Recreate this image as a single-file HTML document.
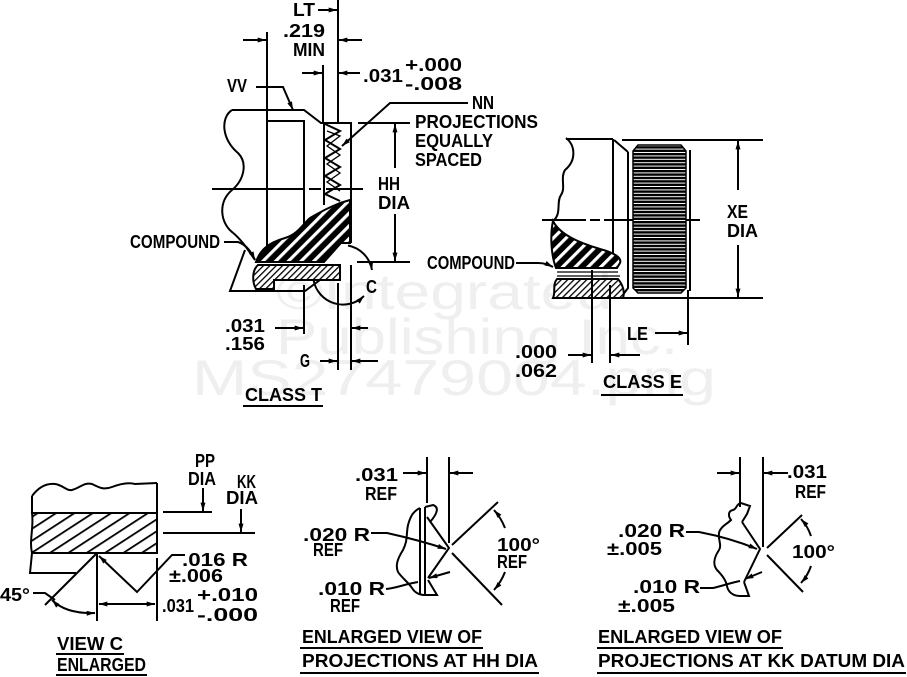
<!DOCTYPE html>
<html><head><meta charset="utf-8"><style>
html,body{margin:0;padding:0;background:#fff;}
svg{display:block;}
.t{font-family:"Liberation Sans",sans-serif;font-weight:bold;font-size:18px;fill:#000;}
.w{font-family:"Liberation Sans",sans-serif;font-size:50px;fill:#efefef;}
</style></head><body>
<svg width="907" height="677" viewBox="0 0 907 677" xmlns="http://www.w3.org/2000/svg">
<defs>
<marker id="a" viewBox="0 0 10 6" refX="10" refY="3" markerWidth="9" markerHeight="5" orient="auto-start-reverse" markerUnits="userSpaceOnUse"><path d="M0,0L10,3L0,6z" fill="#000" stroke="none"/></marker>
<pattern id="cmp" width="9" height="9" patternUnits="userSpaceOnUse" patternTransform="rotate(45)"><rect width="9" height="9" fill="#000"/><rect width="3.2" height="9" fill="#fff"/></pattern>
<pattern id="fh" width="4.5" height="4.5" patternUnits="userSpaceOnUse" patternTransform="rotate(45)"><rect width="4.5" height="4.5" fill="#fff"/><rect width="1.3" height="4.5" fill="#000"/></pattern>
<pattern id="vc" width="10" height="10" patternUnits="userSpaceOnUse" patternTransform="rotate(57)"><rect width="10" height="10" fill="#fff"/><rect width="1.8" height="10" fill="#000"/></pattern>
<pattern id="kn" width="10" height="3.4" patternUnits="userSpaceOnUse"><rect width="10" height="3.4" fill="#fff"/><rect width="10" height="2.4" fill="#000"/></pattern>
</defs>

<!-- watermark -->
<text class="w" x="276" y="309" textLength="336" lengthAdjust="spacingAndGlyphs">©Integrated</text>
<text class="w" x="276" y="354" textLength="402" lengthAdjust="spacingAndGlyphs">Publishing Inc.</text>
<text class="w" x="192" y="395" textLength="524" lengthAdjust="spacingAndGlyphs">MS27479004.png</text>

<g fill="none" stroke="#000" stroke-width="2">
<!-- ===== CLASS T ===== -->
<line x1="338" y1="0" x2="338" y2="123"/>
<line x1="318" y1="10" x2="337" y2="10" marker-end="url(#a)"/>
<line x1="267" y1="32" x2="267" y2="254"/>
<line x1="243" y1="40" x2="266" y2="40" marker-end="url(#a)"/>
<line x1="362" y1="40" x2="339" y2="40" marker-end="url(#a)"/>
<line x1="323" y1="65" x2="323" y2="123"/>
<line x1="302" y1="73" x2="322" y2="73" marker-end="url(#a)"/>
<line x1="360" y1="73" x2="339" y2="73" marker-end="url(#a)"/>
<polyline points="256,87 283,87 293,110" marker-end="url(#a)"/>
<polyline points="468,103 390,103 342,146" marker-end="url(#a)"/>
<line x1="358" y1="123" x2="410" y2="123"/>
<line x1="395" y1="168" x2="395" y2="124" marker-end="url(#a)"/>
<line x1="395" y1="214" x2="395" y2="261" marker-end="url(#a)"/>
<line x1="357" y1="262" x2="410" y2="262"/>
<path d="M232,110 L304,110 L321,123 L351,123 L351,243"/>
<path d="M232,110 C220,118 222,140 238,153 C248,163 244,180 232,190 C218,202 220,222 232,232 C242,240 248,250 255,260"/>
<polyline points="267,121 304,121 304,232"/>
<line x1="324" y1="123" x2="324" y2="205"/>
<polyline points="325,124 340,131 325,140 340,149 325,158 340,167 325,176 340,185 325,194 340,201"/>
<polyline points="327,131 340,136 327,146 340,155 327,164 340,173 327,182 340,191" stroke-width="1.3"/>
<line x1="212" y1="189" x2="363" y2="189" stroke-dasharray="92 5 12 5 60"/>
<path d="M256,262 C260,250 268,243 285,238 C298,234 302,225 310,218 C320,212 330,207 340,203 L350,200 L350,243 L341,243 L324,262 Z" fill="url(#cmp)"/>
<path d="M258,265 L340,265 L340,280 L274,280 L274,289 L256,289 C252,282 252,270 258,265 Z" fill="url(#fh)"/>
<polyline points="245,250 230,291 305,291 320,280 340,280"/>
<!-- C circle arcs (visible portions) -->
<path d="M348,245.5 A30,30 0 0 1 372,270" marker-end="url(#a)"/>
<path d="M313.5,280 A30,30 0 0 0 364,296" marker-end="url(#a)"/>
<line x1="304" y1="285" x2="304" y2="334"/>
<line x1="275" y1="328" x2="303" y2="328" marker-end="url(#a)"/>
<line x1="351" y1="265" x2="351" y2="370"/>
<line x1="368" y1="328" x2="352" y2="328" marker-end="url(#a)"/>
<line x1="338" y1="283" x2="338" y2="370"/>
<line x1="320" y1="361" x2="337" y2="361" marker-end="url(#a)"/>
<line x1="378" y1="361" x2="352" y2="361" marker-end="url(#a)"/>
<path d="M224,242 L238,242 C247,245 251,252 255,260" marker-end="url(#a)"/>
<line x1="243" y1="406" x2="323" y2="406"/>

<!-- ===== CLASS E ===== -->
<path d="M566,138 C575,145 577,160 565,170 C560,178 566,188 561,195 C556,202 562,214 553,221"/>
<line x1="566" y1="139" x2="613" y2="139"/>
<line x1="613" y1="139" x2="613" y2="262"/>
<line x1="614" y1="140" x2="628" y2="152"/>
<line x1="622" y1="140" x2="763" y2="140"/>
<line x1="553" y1="298" x2="763" y2="298"/>
<polyline points="628,152 628,288 622,296"/>
<line x1="542" y1="220" x2="700" y2="220" stroke-dasharray="44 4 10 4"/>
<path d="M638,145 L681,145 L686,151 L686,288 L681,293 L638,293 L633,288 L633,151 Z" fill="url(#kn)" stroke-width="1.5"/>
<line x1="690" y1="150" x2="690" y2="291"/>
<path d="M553,221 C560,235 580,243 600,249 C615,253 622,258 620,263 L617,268 L556,268 C551,255 550,235 553,221 Z" fill="url(#cmp)"/>
<line x1="557" y1="272" x2="618" y2="272" stroke-width="1.2"/>
<line x1="557" y1="276" x2="620" y2="276" stroke-width="1.2"/>
<path d="M557,279 L618,279 C623,285 625,292 623,298 L553,298 C556,292 552,285 557,279 Z" fill="url(#fh)"/>
<line x1="738" y1="190" x2="738" y2="141" marker-end="url(#a)"/>
<line x1="738" y1="245" x2="738" y2="297" marker-end="url(#a)"/>
<path d="M516,263 L538,263 C545,263 549,265 553,267" marker-end="url(#a)"/>
<line x1="592" y1="270" x2="592" y2="363"/>
<line x1="610" y1="285" x2="610" y2="363"/>
<line x1="568" y1="355" x2="591" y2="355" marker-end="url(#a)"/>
<line x1="640" y1="355" x2="611" y2="355" marker-end="url(#a)"/>
<line x1="688" y1="290" x2="688" y2="345"/>
<line x1="655" y1="333" x2="687" y2="333" marker-end="url(#a)"/>
<line x1="601" y1="395" x2="683" y2="395"/>

<!-- ===== VIEW C ===== -->
<path d="M32,496 C38,488 46,483 55,484 C63,485 66,491 72,490 C80,488 84,482 92,484 C100,488 104,490 112,487 C120,484 128,482 135,484 L157,483"/>
<line x1="32" y1="496" x2="32" y2="513"/>
<path d="M32,513 L157,513 L157,553 L32,553 C29,540 34,528 32,513 Z" fill="url(#vc)"/>
<line x1="157" y1="483" x2="157" y2="513"/>
<polyline points="32,553 30,573 76,573"/>
<line x1="45" y1="605" x2="97" y2="553"/>
<polyline points="185,555 172,555 137,592 99,556" marker-end="url(#a)"/>
<line x1="97" y1="553" x2="97" y2="621"/>
<line x1="157" y1="558" x2="157" y2="621"/>
<line x1="99" y1="604" x2="155" y2="604" marker-start="url(#a)" marker-end="url(#a)"/>
<path d="M52,600 Q66,614 95,613" marker-start="url(#a)" marker-end="url(#a)"/>
<polyline points="33,593 45,593 55,600"/>
<line x1="203" y1="488" x2="203" y2="511" marker-end="url(#a)"/>
<line x1="163" y1="512" x2="212" y2="512"/>
<line x1="241" y1="509" x2="241" y2="532" marker-end="url(#a)"/>
<line x1="163" y1="533" x2="255" y2="533"/>
<line x1="56" y1="654" x2="124" y2="654"/>
<line x1="56" y1="675" x2="147" y2="675"/>

<!-- ===== HH VIEW ===== -->
<line x1="427" y1="457" x2="427" y2="503"/>
<line x1="449" y1="457" x2="449" y2="543"/>
<line x1="403" y1="473" x2="426" y2="473" marker-end="url(#a)"/>
<line x1="473" y1="473" x2="450" y2="473" marker-end="url(#a)"/>
<line x1="420" y1="508" x2="420" y2="595"/>
<line x1="425" y1="507" x2="425" y2="595"/>
<path d="M425,507 L433,505 C439,507 438,513 430,522 M420,508 C412,512 410,518 408,525 C406,535 408,540 403,550 C398,558 395,565 398,572 C402,578 408,582 412,588 C415,593 420,595 424,595 L437,595 L428,580"/>
<polyline points="427,517 449,548 428,578"/>
<line x1="452" y1="545" x2="498" y2="502"/>
<line x1="452" y1="553" x2="502" y2="605"/>
<path d="M505,528 A60,60 0 0 0 494,510" marker-end="url(#a)"/>
<path d="M505,572 A60,60 0 0 1 494,590" marker-end="url(#a)"/>
<path d="M371,533 L387,533 C405,537 425,542 446,549" marker-end="url(#a)"/>
<path d="M386,589 C397,588 405,584 418,582"/>
<line x1="450" y1="572" x2="429" y2="578" marker-end="url(#a)"/>
<line x1="300" y1="648" x2="483" y2="648"/>
<line x1="300" y1="673" x2="539" y2="673"/>

<!-- ===== KK VIEW ===== -->
<line x1="740" y1="457" x2="740" y2="507"/>
<line x1="763" y1="457" x2="763" y2="547"/>
<line x1="717" y1="473" x2="739" y2="473" marker-end="url(#a)"/>
<line x1="788" y1="473" x2="764" y2="473" marker-end="url(#a)"/>
<path d="M742,522 L747,514 L750,506 L741,503 C736,504 737,509 733,510 C728,511 728,516 731,520 C727,524 720,527 719,533 C718,540 722,545 719,550 C715,556 712,564 717,570 C722,575 726,580 727,586 C728,592 733,596 740,596 L749,596 L744,582"/>
<polyline points="742,522 760,549 744,582"/>
<line x1="767" y1="548" x2="802" y2="515"/>
<line x1="767" y1="555" x2="803" y2="592"/>
<path d="M811,536 A48,48 0 0 0 801,519" marker-end="url(#a)"/>
<path d="M811,566 A48,48 0 0 1 801,583" marker-end="url(#a)"/>
<path d="M686,532 L699,532 C720,536 740,542 757,549" marker-end="url(#a)"/>
<path d="M700,588 L713,588 C722,586 730,583 740,581"/>
<line x1="762" y1="572" x2="745" y2="579" marker-end="url(#a)"/>
<line x1="597" y1="648" x2="783" y2="648"/>
<line x1="597" y1="673" x2="906" y2="673"/>
</g>

<g class="t">
<!-- class T -->
<text x="293" y="16" textLength="22" lengthAdjust="spacingAndGlyphs">LT</text>
<text x="283" y="37" textLength="42" lengthAdjust="spacingAndGlyphs">.219</text>
<text x="293" y="56" textLength="32" lengthAdjust="spacingAndGlyphs">MIN</text>
<text x="363" y="82" textLength="40" lengthAdjust="spacingAndGlyphs">.031</text>
<text x="405" y="71" textLength="57" lengthAdjust="spacingAndGlyphs">+.000</text>
<text x="405" y="90" textLength="57" lengthAdjust="spacingAndGlyphs">-.008</text>
<text x="472" y="109" textLength="22" lengthAdjust="spacingAndGlyphs">NN</text>
<text x="415" y="128" textLength="123" lengthAdjust="spacingAndGlyphs">PROJECTIONS</text>
<text x="415" y="147" textLength="78" lengthAdjust="spacingAndGlyphs">EQUALLY</text>
<text x="415" y="166" textLength="67" lengthAdjust="spacingAndGlyphs">SPACED</text>
<text x="227" y="92" textLength="20" lengthAdjust="spacingAndGlyphs">VV</text>
<text x="378" y="190" textLength="22" lengthAdjust="spacingAndGlyphs">HH</text>
<text x="378" y="209" textLength="32" lengthAdjust="spacingAndGlyphs">DIA</text>
<text x="130" y="248" textLength="90" lengthAdjust="spacingAndGlyphs">COMPOUND</text>
<text x="366" y="293" textLength="11" lengthAdjust="spacingAndGlyphs">C</text>
<text x="225" y="332" textLength="40" lengthAdjust="spacingAndGlyphs">.031</text>
<text x="225" y="350" textLength="40" lengthAdjust="spacingAndGlyphs">.156</text>
<text x="300" y="367" textLength="10" lengthAdjust="spacingAndGlyphs">G</text>
<text x="245" y="401" textLength="77" lengthAdjust="spacingAndGlyphs">CLASS T</text>
<!-- class E -->
<text x="727" y="218" textLength="21" lengthAdjust="spacingAndGlyphs">XE</text>
<text x="727" y="237" textLength="31" lengthAdjust="spacingAndGlyphs">DIA</text>
<text x="427" y="269" textLength="88" lengthAdjust="spacingAndGlyphs">COMPOUND</text>
<text x="515" y="358" textLength="42" lengthAdjust="spacingAndGlyphs">.000</text>
<text x="515" y="377" textLength="42" lengthAdjust="spacingAndGlyphs">.062</text>
<text x="627" y="340" textLength="21" lengthAdjust="spacingAndGlyphs">LE</text>
<text x="603" y="388" textLength="79" lengthAdjust="spacingAndGlyphs">CLASS E</text>
<!-- view C -->
<text x="195" y="467" textLength="20" lengthAdjust="spacingAndGlyphs">PP</text>
<text x="188" y="485" textLength="28" lengthAdjust="spacingAndGlyphs">DIA</text>
<text x="237" y="488" textLength="19" lengthAdjust="spacingAndGlyphs">KK</text>
<text x="226" y="504" textLength="32" lengthAdjust="spacingAndGlyphs">DIA</text>
<text x="182" y="566" textLength="66" lengthAdjust="spacingAndGlyphs">.016 R</text>
<text x="169" y="582" textLength="54" lengthAdjust="spacingAndGlyphs">±.006</text>
<text x="162" y="612" textLength="32" lengthAdjust="spacingAndGlyphs">.031</text>
<text x="197" y="601" textLength="61" lengthAdjust="spacingAndGlyphs">+.010</text>
<text x="197" y="621" textLength="61" lengthAdjust="spacingAndGlyphs">-.000</text>
<text x="0" y="601" textLength="30" lengthAdjust="spacingAndGlyphs">45°</text>
<text x="57" y="650" textLength="66" lengthAdjust="spacingAndGlyphs">VIEW C</text>
<text x="57" y="671" textLength="89" lengthAdjust="spacingAndGlyphs">ENLARGED</text>
<!-- HH view -->
<text x="355" y="481" textLength="43" lengthAdjust="spacingAndGlyphs">.031</text>
<text x="365" y="500" textLength="32" lengthAdjust="spacingAndGlyphs">REF</text>
<text x="303" y="541" textLength="67" lengthAdjust="spacingAndGlyphs">.020 R</text>
<text x="313" y="556" textLength="30" lengthAdjust="spacingAndGlyphs">REF</text>
<text x="497" y="551" textLength="43" lengthAdjust="spacingAndGlyphs">100°</text>
<text x="497" y="568" textLength="30" lengthAdjust="spacingAndGlyphs">REF</text>
<text x="318" y="595" textLength="67" lengthAdjust="spacingAndGlyphs">.010 R</text>
<text x="330" y="612" textLength="30" lengthAdjust="spacingAndGlyphs">REF</text>
<text x="302" y="643" textLength="180" lengthAdjust="spacingAndGlyphs">ENLARGED VIEW OF</text>
<text x="302" y="667" textLength="236" lengthAdjust="spacingAndGlyphs">PROJECTIONS AT HH DIA</text>
<!-- KK view -->
<text x="787" y="478" textLength="40" lengthAdjust="spacingAndGlyphs">.031</text>
<text x="795" y="498" textLength="31" lengthAdjust="spacingAndGlyphs">REF</text>
<text x="618" y="537" textLength="67" lengthAdjust="spacingAndGlyphs">.020 R</text>
<text x="607" y="555" textLength="55" lengthAdjust="spacingAndGlyphs">±.005</text>
<text x="792" y="558" textLength="43" lengthAdjust="spacingAndGlyphs">100°</text>
<text x="633" y="593" textLength="67" lengthAdjust="spacingAndGlyphs">.010 R</text>
<text x="618" y="612" textLength="57" lengthAdjust="spacingAndGlyphs">±.005</text>
<text x="598" y="643" textLength="184" lengthAdjust="spacingAndGlyphs">ENLARGED VIEW OF</text>
<text x="598" y="667" textLength="307" lengthAdjust="spacingAndGlyphs">PROJECTIONS AT KK DATUM DIA</text>
</g>
</svg>
</body></html>
